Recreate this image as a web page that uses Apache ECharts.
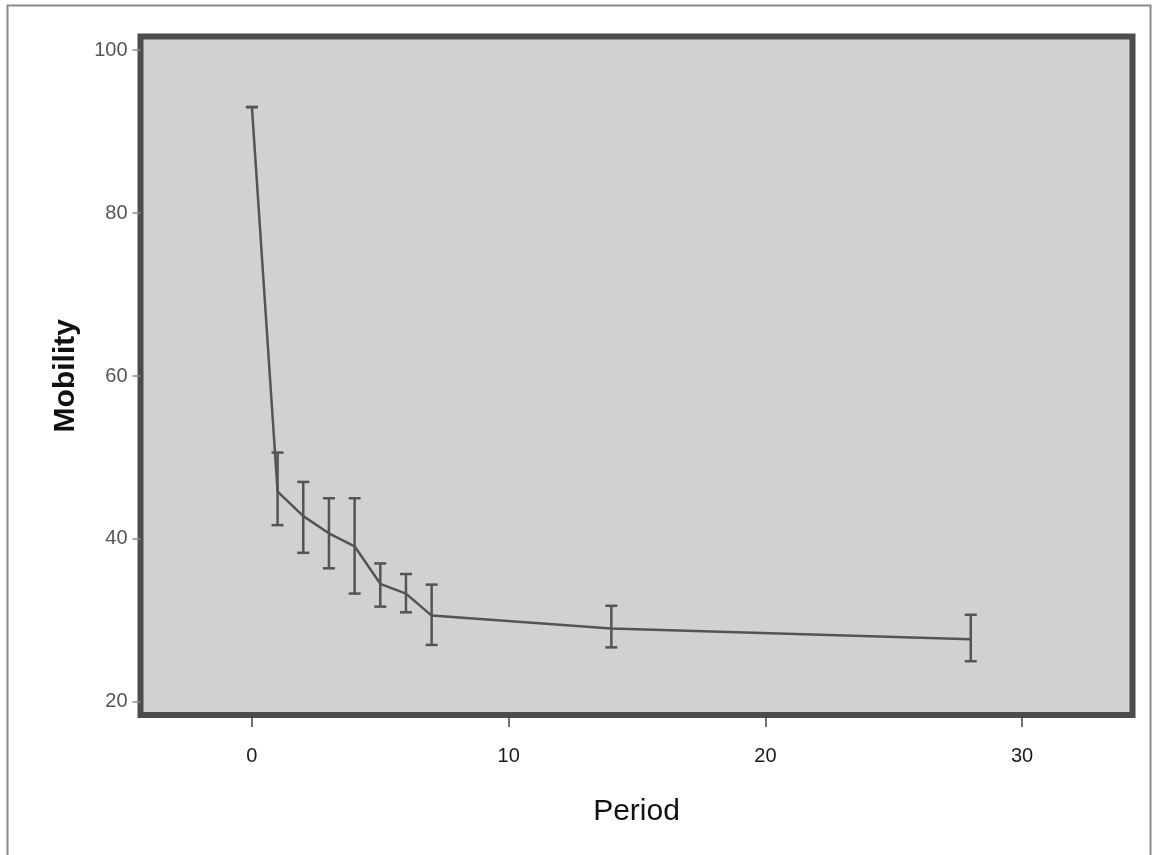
<!DOCTYPE html>
<html>
<head>
<meta charset="utf-8">
<script src="https://cdn.jsdelivr.net/npm/echarts@6/dist/echarts.min.js"></script>
<style>
html,body{margin:0;padding:0;background:#fff;}
#chart{width:1152px;height:855px;}
</style>
</head>
<body>
<div id="chart"></div>
<script>
const periods = [0, 1, 2, 3, 4, 5, 6, 7, 14, 28];
const mobility = [93, 45.8, 42.8, 40.7, 39.1, 34.5, 33.3, 30.6, 29.0, 27.7];
const errLow = [93, 41.7, 38.3, 36.4, 33.3, 31.7, 31.0, 27.0, 26.7, 25.0];
const errHigh = [93, 50.6, 47.0, 45.0, 45.0, 37.0, 35.7, 34.4, 31.8, 30.7];
const xTicks = [0, 10, 20, 30];
const yTicks = [20, 40, 60, 80, 100];

const lineData = periods.map((p, i) => [p, mobility[i]]);
const errData = periods.map((p, i) => [p, errLow[i], errHigh[i]]);

const chart = echarts.init(document.getElementById('chart'), null, {renderer: 'canvas'});
const ink = '#545454';
chart.setOption({
  animation: false,
  backgroundColor: '#ffffff',
  graphic: [{
    type: 'rect',
    shape: {x: 7.5, y: 5.5, width: 1143, height: 860},
    style: {fill: 'none', stroke: '#8a8a8a', lineWidth: 2},
    z: -10
  }],
  grid: {
    left: 140.5, top: 36.5, width: 992, height: 678.5,
    show: true,
    backgroundColor: '#d1d1d1',
    borderColor: '#4c4c4c',
    borderWidth: 6
  },
  xAxis: {
    type: 'value',
    min: -4.34, max: 34.3,
    name: 'Period',
    nameLocation: 'middle',
    nameGap: 82,
    nameTextStyle: {fontFamily: 'Liberation Sans', fontSize: 30, color: '#111'},
    axisLine: {show: false, onZero: false},
    splitLine: {show: false},
    axisTick: {show: true, length: 12, customValues: xTicks, lineStyle: {color: '#444', width: 1.5}},
    axisLabel: {customValues: xTicks, margin: 31, fontFamily: 'Liberation Sans', fontSize: 20, color: '#1a1a1a'}
  },
  yAxis: {
    type: 'value',
    min: 18.4, max: 101.66,
    name: 'Mobility',
    nameLocation: 'middle',
    nameGap: 60,
    nameTextStyle: {fontFamily: 'Liberation Sans', fontSize: 30, fontWeight: 'bold', color: '#111'},
    axisLine: {show: false, onZero: false},
    splitLine: {show: false},
    axisTick: {show: true, length: 8, customValues: yTicks, lineStyle: {color: '#8a8a8a', width: 1.5}},
    axisLabel: {customValues: yTicks, margin: 13, fontFamily: 'Liberation Sans', fontSize: 20, color: '#555'}
  },
  series: [
    {
      type: 'line',
      data: lineData,
      symbol: 'none',
      lineStyle: {color: ink, width: 2.5},
      z: 3
    },
    {
      type: 'custom',
      data: errData,
      z: 4,
      renderItem: function (params, api) {
        const x = api.value(0);
        const lo = api.coord([x, api.value(1)]);
        const hi = api.coord([x, api.value(2)]);
        const hw = 6;
        const st = {stroke: ink, lineWidth: 2.5};
        return {
          type: 'group',
          children: [
            {type: 'line', shape: {x1: hi[0], y1: hi[1], x2: lo[0], y2: lo[1]}, style: st},
            {type: 'line', shape: {x1: hi[0] - hw, y1: hi[1], x2: hi[0] + hw, y2: hi[1]}, style: st},
            {type: 'line', shape: {x1: lo[0] - hw, y1: lo[1], x2: lo[0] + hw, y2: lo[1]}, style: st}
          ]
        };
      }
    }
  ]
});
</script>
</body>
</html>
